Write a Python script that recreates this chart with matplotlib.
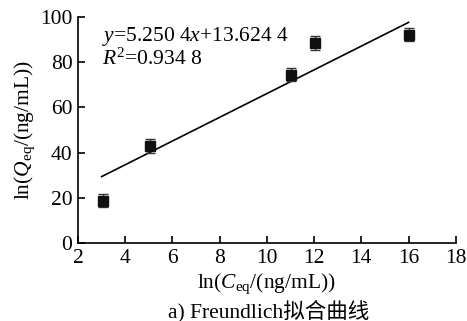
import numpy as np
import matplotlib
matplotlib.use('Agg')
import matplotlib.pyplot as plt

plt.rcParams['font.family'] = ['Liberation Serif', 'Noto Sans CJK SC']
plt.rcParams['mathtext.fontset'] = 'custom'
plt.rcParams['mathtext.rm'] = 'Liberation Serif'
plt.rcParams['mathtext.it'] = 'Liberation Serif:italic'

# data
ln_ceq = [3.05, 5.05, 11.0, 12.05, 16.0]
ln_qeq = [18.8, 43.0, 74.5, 88.6, 92.2]
err = [3.0, 3.0, 3.0, 3.0, 3.0]

slope = 5.2504
intercept = 13.6244

fig = plt.figure(figsize=(4.67, 3.21), dpi=100)
ax = fig.add_axes([0.167, 0.243, 0.809, 0.704])

# fitted line
xs = np.array([3.0, 16.0])
ax.plot(xs, slope * xs + intercept, color='black', lw=1.2)

ax.errorbar(ln_ceq, ln_qeq, yerr=err, fmt='s', color='#111111', ms=6.5,
            ecolor='#333333', elinewidth=1, capsize=3.5, capthick=1)

ax.set_xlim(2, 18)
ax.set_ylim(0, 100)
ax.set_xticks(range(2, 19, 2))
ax.set_yticks(range(0, 101, 20))
ax.tick_params(direction='in', labelsize=15.5, length=5, width=1.2, pad=4)
for s in ['top', 'right']:
    ax.spines[s].set_visible(False)
for s in ['left', 'bottom']:
    ax.spines[s].set_linewidth(1.2)

ax.set_xlabel(r'ln($\mathit{C}_{\rm eq}$/(ng/mL))', fontsize=15.5, labelpad=3)
ax.set_ylabel(r'ln($\mathit{Q}_{\rm eq}$/(ng/mL))', fontsize=15.5, labelpad=2)

ax.text(3.0, 89.5, r'$\mathit{y}$=5.250 4$\mathit{x}$+13.624 4', fontsize=15.5, va='baseline')
ax.text(3.0, 79.0, r'$\mathit{R}^2$=0.934 8', fontsize=15.5, va='baseline')

fig.text(0.575, 0.012, 'a) Freundlich拟合曲线', ha='center', va='baseline', fontsize=15.5)

plt.savefig('out.png', dpi=100)
